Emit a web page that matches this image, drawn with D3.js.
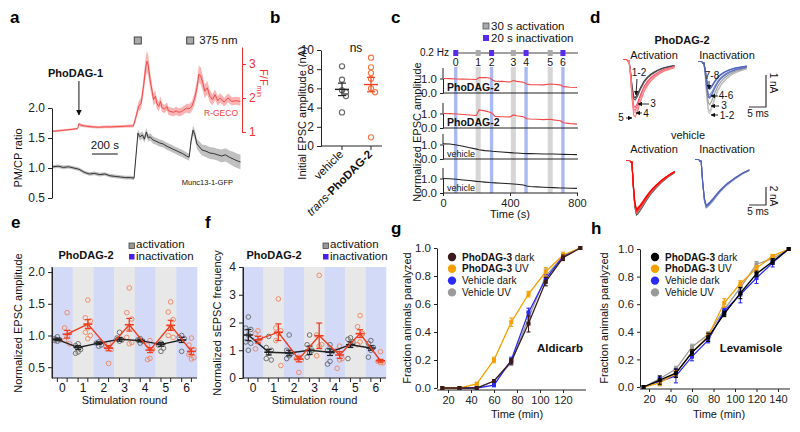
<!DOCTYPE html>
<html><head><meta charset="utf-8">
<script src="https://cdn.jsdelivr.net/npm/d3@7"></script>
<style>body{margin:0;background:#fff}svg{display:block;font-family:"Liberation Sans",Arial,sans-serif}</style>
</head><body><svg id="chart" width="800" height="432"></svg>
<script>
// ================= DATA =================
// Panel a (time in s)
const aRedTime = [0,50,100,150,190,200,215,240,300,350,400,450,500,560,620,640,660,680,700,715,725,735,750,765,775,790,800,815,830,840,860,880,890,910,930,950,970,990,1010,1030,1050,1070,1090,1110,1125,1140,1155,1170,1190,1210,1230,1250,1270,1290,1320,1350,1380,1410,1445];
const aRedVal  = [1.02,1.04,1.06,1.08,1.10,1.24,1.20,1.18,1.15,1.14,1.15,1.15,1.16,1.17,1.18,1.45,1.75,1.85,2.40,2.90,3.08,2.95,2.50,2.20,1.95,2.05,1.85,1.75,1.90,1.72,1.68,1.75,1.62,1.60,1.58,1.62,1.58,1.60,1.65,1.70,1.68,1.75,1.95,2.30,2.70,2.65,2.45,2.20,2.30,2.05,1.95,2.10,1.92,2.00,1.88,2.00,1.90,1.92,1.90];
const aRedErr  = [0.03,0.03,0.03,0.03,0.03,0.05,0.05,0.04,0.04,0.04,0.04,0.04,0.04,0.04,0.05,0.12,0.15,0.18,0.25,0.30,0.32,0.30,0.25,0.20,0.18,0.18,0.15,0.14,0.15,0.13,0.12,0.12,0.12,0.12,0.12,0.12,0.12,0.12,0.12,0.13,0.14,0.15,0.18,0.22,0.25,0.25,0.22,0.20,0.20,0.18,0.16,0.16,0.14,0.14,0.13,0.13,0.12,0.12,0.12];
const aBlkTime = [0,40,80,120,160,200,240,280,320,360,400,440,480,520,560,600,625,640,655,670,690,705,720,735,750,770,790,820,850,880,910,940,970,1000,1030,1050,1065,1080,1095,1110,1130,1150,1180,1210,1240,1270,1300,1330,1360,1390,1420,1446];
const aBlkVal  = [1.02,1.03,1.01,1.02,1.00,0.98,0.93,0.90,0.91,0.89,0.90,0.87,0.86,0.85,0.84,0.84,0.83,1.20,1.58,1.52,1.55,1.48,1.60,1.50,1.52,1.47,1.45,1.42,1.40,1.36,1.33,1.30,1.27,1.24,1.20,1.18,1.45,1.63,1.55,1.40,1.35,1.30,1.28,1.25,1.24,1.22,1.20,1.22,1.18,1.15,1.12,1.10];
const aBlkErr  = [0.03,0.03,0.03,0.03,0.03,0.03,0.03,0.03,0.03,0.03,0.03,0.03,0.03,0.03,0.03,0.03,0.03,0.05,0.06,0.06,0.06,0.06,0.07,0.06,0.06,0.06,0.06,0.06,0.06,0.06,0.06,0.06,0.06,0.06,0.06,0.06,0.07,0.08,0.08,0.08,0.09,0.09,0.10,0.10,0.10,0.10,0.11,0.11,0.11,0.12,0.12,0.12];
const aLeftTicks = [0.5, 1.0, 1.5, 2.0];
const aRightTicks = [1, 2, 3];
const aLightTimes = [654, 1058];

// Panel b (nA)
const bCats = ["vehicle", "trans-PhoDAG-2"];
const bVehicle = [8.3, 6.9, 5.8, 5.6, 5.2, 3.5];
const bPhoDAG  = [9.2, 8.2, 7.6, 7.0, 6.0, 5.6, 0.9];
const bMean = [5.9, 6.4];
const bSem  = [0.65, 0.75];
const bTicks = [0, 2, 4, 6, 8, 10];

// Panel c
const cTime = [0,40,80,120,160,200,215,250,280,295,310,350,400,420,440,480,500,520,560,600,640,660,700,720,760,800];
const cPho1 = [1.0,0.99,0.97,0.96,0.95,0.93,1.06,1.07,1.04,0.90,0.82,0.80,0.76,0.86,0.80,0.74,0.62,0.58,0.57,0.56,0.62,0.60,0.56,0.44,0.40,0.38];
const cPho2 = [1.0,0.99,0.97,0.93,0.90,0.86,1.25,1.18,1.08,1.0,0.80,0.78,0.76,0.90,0.84,0.78,0.64,0.62,0.60,0.58,0.60,0.56,0.50,0.36,0.30,0.27];
const cVeh1 = [1.04,1.03,0.96,0.88,0.78,0.68,0.64,0.58,0.55,0.53,0.52,0.48,0.44,0.42,0.41,0.38,0.37,0.37,0.36,0.35,0.35,0.34,0.33,0.32,0.31,0.30];
const cVeh2 = [1.0,0.98,0.95,0.90,0.86,0.80,0.79,0.75,0.72,0.71,0.70,0.67,0.64,0.62,0.60,0.55,0.48,0.45,0.42,0.40,0.38,0.37,0.35,0.34,0.33,0.32];
const cRoundTimes = [76, 210, 290, 420, 496, 640, 716];
const cRoundType  = ["in","act","in","act","in","act","in"];
const cXTicks = [0, 400, 800];

// Panel d (normalized EPSC shapes, time in ms) and amplitudes (nA)
const dShapeT   = [0,0.6,1.0,1.5,2.0,2.4,3.0,4.0,5.0,6.0,7.0,8.0,9.0,10.0,11.0,12.0,13.0,14.0];
const dShapeTop = [0,0,0.25,0.70,0.97,1.0,0.92,0.72,0.55,0.44,0.36,0.30,0.25,0.21,0.18,0.16,0.14,0.12];
const dShapeBot = [0,0,0.45,0.85,1.0,0.98,0.93,0.84,0.74,0.65,0.57,0.50,0.44,0.38,0.33,0.28,0.24,0.20];
const dActAmp   = [1.15, 1.22, 1.45, 1.55, 1.62, 1.75];
const dActCol   = ["#333","#555","#f46","#f57","#f9a0a0","#f77"];
const dInaAmp   = [1.58, 1.50, 1.30, 1.00, 1.06, 1.10, 0.78, 0.82];
const dInaCol   = ["#c8c8c8","#bbb","#999","#8a9ad8","#7282cc","#6070c0","#4a5ab8","#5566bb"];
const dVehActAmp = [5.9, 5.7, 5.2, 5.35, 5.5, 5.6, 5.3];
const dVehActCol = ["#555","#888","#f33","#f22","#e11","#f44","#f00"];
const dVehInaAmp = [5.0, 5.1, 5.2, 4.9];
const dVehInaCol = ["#6a78c0","#5a68b8","#7a88c8","#4f5fb0"];

// Panel e
const rounds = [0,1,2,3,4,5,6];
const eBlackMean = [0.94,0.81,0.88,0.94,0.92,0.86,0.93];
const eBlackSem  = [0.02,0.03,0.02,0.03,0.02,0.03,0.04];
const eRedMean   = [1.02,1.18,0.80,1.17,0.77,1.16,0.75];
const eRedSem    = [0.06,0.07,0.04,0.10,0.04,0.08,0.05];
const eBlackPts = [[0.98,0.95,0.93,0.91,0.92],[0.87,0.84,0.78,0.74,0.72],[0.90,0.88,0.85,0.83],[1.05,0.96,0.93,0.91],[0.95,0.93,0.91,0.88],[0.88,0.85,0.80,0.75],[1.0,0.97,0.95,0.75]];
const eRedPts = [[1.36,1.12,1.05,0.98,0.92,0.87],[1.56,1.28,1.23,1.12,1.05,1.0,0.95],[0.87,0.82,0.78,0.56],[1.75,1.36,1.26,1.12,0.97,0.89,0.87],[0.92,0.85,0.78,0.64,0.62],[1.53,1.37,1.25,1.12,1.0,0.97],[0.96,0.85,0.78,0.72,0.70,0.65,0.63]];
const eTicks = [0.5,1.0,1.5,2.0];

// Panel f
const fBlackMean = [1.55,0.93,0.90,1.00,0.93,1.20,1.08];
const fBlackSem  = [0.20,0.10,0.10,0.15,0.12,0.10,0.08];
const fRedMean   = [1.38,1.65,0.68,1.52,0.83,1.60,0.62];
const fRedSem    = [0.12,0.30,0.10,0.46,0.12,0.14,0.05];
const fBlackPts = [[2.2,1.8,1.75,1.55,1.3,1.25,1.0],[1.5,1.1,1.0,0.9,0.7,0.65],[1.55,1.0,0.9,0.8,0.7],[1.55,1.2,1.0,0.9,0.75],[1.2,1.0,0.95,0.6,0.5],[1.45,1.4,1.3,1.2,0.7],[1.35,1.25,1.1,1.0,0.75]];
const fRedPts = [[1.7,1.6,1.45,1.3,1.05],[2.85,1.8,1.7,1.6,1.35,0.45],[0.75,0.7,0.65,0.2],[3.7,1.55,1.2,1.15,0.8],[1.15,1.0,0.7,0.65,0.35],[2.25,1.85,1.6,1.3,1.2],[0.95,0.6,0.55,0.55]];
const fTicks = [0,1,2,3,4];

// Panel g (Aldicarb)
const gTimes = [15,30,45,60,75,90,105,120,135];
const gDark    = [0,0,0,0.05,0.19,0.46,0.76,0.93,1.0];
const gDarkErr = [0,0,0,0.01,0.02,0.06,0.03,0.02,0];
const gUV      = [0,0,0.03,0.20,0.47,0.67,0.83,0.95,1.0];
const gUVErr   = [0,0,0.01,0.02,0.03,0.02,0.03,0.02,0];
const gVehDark    = [0,0,0,0.02,0.20,0.54,0.78,0.94,1.0];
const gVehDarkErr = [0,0,0,0.01,0.02,0.03,0.03,0.01,0];
const gVehUV      = [0,0,0,0.05,0.18,0.50,0.80,0.94,1.0];
const gVehUVErr   = [0,0,0,0.01,0.02,0.04,0.05,0.02,0];
const gXTicks = [20,40,60,80,100,120];

// Panel h (Levamisole)
const hTimes = [15,30,45,60,75,90,105,120,135,150];
const hDark    = [0,0.05,0.10,0.25,0.36,0.53,0.68,0.82,0.91,1.0];
const hDarkErr = [0,0.03,0.03,0.02,0.03,0.02,0.04,0.02,0.02,0];
const hUV      = [0,0.03,0.10,0.25,0.37,0.61,0.75,0.86,0.95,1.0];
const hUVErr   = [0,0.02,0.02,0.02,0.02,0.03,0.02,0.02,0.01,0];
const hVehDark    = [0,0.04,0.08,0.22,0.34,0.55,0.67,0.79,0.90,1.0];
const hVehDarkErr = [0,0.03,0.05,0.03,0.02,0.02,0.06,0.04,0.03,0];
const hVehUV      = [0,0.06,0.13,0.29,0.38,0.56,0.72,0.89,0.93,1.0];
const hVehUVErr   = [0,0.02,0.02,0.02,0.02,0.02,0.02,0.02,0.02,0];
const hXTicks = [20,40,60,80,100,120,140];
const fracTicks = [0,0.2,0.4,0.6,0.8,1.0];
const legendNames = [["PhoDAG-3"," dark"],["PhoDAG-3"," UV"],["","Vehicle dark"],["","Vehicle UV"]];

// ================= DRAW =================
const svg = d3.select("#chart");
const FONT = 11.5;
const TITLE = 11;
const AX = "#222";

function styleAxis(g, fs, col) {
  g.select(".domain").attr("stroke", col || AX);
  g.selectAll(".tick line").attr("stroke", col || AX);
  g.selectAll(".tick text").attr("font-size", fs || FONT).attr("fill", col || "#222").attr("font-family", null);
  return g;
}
function txt(x, y, s, o) {
  o = o || {};
  const t = svg.append("text").attr("x", x).attr("y", y).text(s)
    .attr("font-size", o.fs || FONT).attr("fill", o.fill || "#111")
    .attr("text-anchor", o.anchor || "start");
  if (o.bold) t.attr("font-weight", "bold");
  if (o.rot !== undefined) t.attr("transform", `rotate(${o.rot},${x},${y})`);
  return t;
}
function letter(x, y, s) { txt(x, y, s, {fs: 17, bold: true, fill: "#000"}); }

// ---------- Panel a ----------
(function(){
  const x = d3.scaleLinear([0, 1450], [53, 241]);
  const yL = d3.scaleLinear([0.5, 2.0], [198, 108]);
  const yR = d3.scaleLinear([1, 3.5], [132, 47]);
  const red = aRedTime.map((t,i)=>({t, v:aRedVal[i], e:aRedErr[i]}));
  const blk = aBlkTime.map((t,i)=>({t, v:aBlkVal[i], e:aBlkErr[i]}));
  svg.append("path").datum(red).attr("fill","#f7a3a3").attr("opacity",0.8)
    .attr("d", d3.area().x(d=>x(d.t)).y0(d=>yR(d.v-d.e)).y1(d=>yR(d.v+d.e)));
  svg.append("path").datum(red).attr("fill","none").attr("stroke","#f24a4a").attr("stroke-width",1)
    .attr("d", d3.line().x(d=>x(d.t)).y(d=>yR(d.v)));
  svg.append("path").datum(blk).attr("fill","#b5b5b5").attr("opacity",0.85)
    .attr("d", d3.area().x(d=>x(d.t)).y0(d=>yL(d.v-d.e)).y1(d=>yL(d.v+d.e)));
  svg.append("path").datum(blk).attr("fill","none").attr("stroke","#333").attr("stroke-width",1)
    .attr("d", d3.line().x(d=>x(d.t)).y(d=>yL(d.v)));
  styleAxis(svg.append("g").attr("transform","translate(52,0)")
    .call(d3.axisLeft(yL).tickValues(aLeftTicks).tickFormat(d3.format(".1f")).tickSize(4).tickSizeOuter(0)), 12);
  styleAxis(svg.append("g").attr("transform","translate(242,0)")
    .call(d3.axisRight(yR).tickValues(aRightTicks).tickFormat(d3.format("d")).tickSize(4).tickSizeOuter(0)), 12, "#f03030");
  letter(10, 23, "a");
  txt(22, 158, "PM/CP ratio", {rot:-90, anchor:"middle", fs:TITLE});
  const ff = svg.append("text").attr("transform","translate(260,83) rotate(90)").attr("text-anchor","middle")
    .attr("font-size",11).attr("fill","#f03030");
  ff.append("tspan").text("F/F");
  ff.append("tspan").attr("font-size",7).attr("dy",3).text("min");
  txt(48, 77, "PhoDAG-1", {bold:true, fs:11});
  svg.append("defs").append("marker").attr("id","arr").attr("viewBox","0 0 10 10").attr("refX",9).attr("refY",5)
    .attr("markerWidth",6).attr("markerHeight",6).attr("orient","auto")
    .append("path").attr("d","M0,0L10,5L0,10z").attr("fill","#111");
  svg.append("line").attr("x1",x(200)).attr("x2",x(200)).attr("y1",81).attr("y2",115)
    .attr("stroke","#111").attr("marker-end","url(#arr)");
  aLightTimes.forEach(t=>{
    svg.append("rect").attr("x",x(t)-3.5).attr("y",37).attr("width",7).attr("height",7)
      .attr("fill","#aaa").attr("stroke","#444").attr("stroke-width",1);
  });
  txt(x(aLightTimes[1])+9, 44, "375 nm", {fs:11.5});
  svg.append("line").attr("x1",x(300)).attr("x2",x(500)).attr("y1",154).attr("y2",154).attr("stroke","#111");
  txt(x(400), 149, "200 s", {anchor:"middle", fs:11.5});
  txt(238, 116, "R-GECO", {anchor:"end", fs:8.5, fill:"#f04040"});
  txt(233, 185, "Munc13-1-GFP", {anchor:"end", fs:7.5, fill:"#111"});
})();

// ---------- Panel b ----------
(function(){
  const y = d3.scaleLinear([0,10],[146,50]);
  const xc = d3.scalePoint(bCats, [342, 371]);
  styleAxis(svg.append("g").attr("transform","translate(321,0)")
    .call(d3.axisLeft(y).tickValues(bTicks).tickSize(4).tickSizeOuter(0)), 12);
  svg.append("line").attr("x1",321).attr("x2",382).attr("y1",146).attr("y2",146).attr("stroke",AX);
  bCats.forEach(c=>svg.append("line").attr("x1",xc(c)).attr("x2",xc(c)).attr("y1",146).attr("y2",150).attr("stroke",AX));
  function dodge(vals){ // spread overlapping points sideways
    return vals.map((v,i)=>{ let k=0; for(let j=0;j<i;j++) if(Math.abs(vals[j]-v)<0.45) k++; return k===0?0:(k%2?4:-4); });
  }
  const groups = [[bVehicle,"#666"],[bPhoDAG,"#f07840"]];
  groups.forEach(([vals,col],gi)=>{
    const dx = dodge(vals);
    vals.forEach((v,i)=>svg.append("circle").attr("cx",xc(bCats[gi])+dx[i]).attr("cy",y(v)).attr("r",2.6)
      .attr("fill","none").attr("stroke",col).attr("stroke-width",1.1));
    const mc = gi===0?"#222":"#f04020";
    const cx = xc(bCats[gi]);
    svg.append("line").attr("x1",cx-7).attr("x2",cx+7).attr("y1",y(bMean[gi])).attr("y2",y(bMean[gi])).attr("stroke",mc).attr("stroke-width",1.4);
    svg.append("line").attr("x1",cx).attr("x2",cx).attr("y1",y(bMean[gi]-bSem[gi])).attr("y2",y(bMean[gi]+bSem[gi])).attr("stroke",mc).attr("stroke-width",1.2);
    [bMean[gi]-bSem[gi], bMean[gi]+bSem[gi]].forEach(v=>svg.append("line").attr("x1",cx-4).attr("x2",cx+4).attr("y1",y(v)).attr("y2",y(v)).attr("stroke",mc).attr("stroke-width",1.2));
  });
  letter(270, 23, "b");
  txt(356, 52, "ns", {anchor:"middle", fs:12});
  txt(306, 113, "Initial EPSC amplitude (nA)", {rot:-90, anchor:"middle", fs:TITLE});
  txt(xc(bCats[0])+2, 155, "vehicle", {rot:-45, anchor:"end", fs:11.5});
  const tl = svg.append("text").attr("transform",`translate(${xc(bCats[1])+2},155) rotate(-45)`).attr("text-anchor","end").attr("font-size",11.5).attr("fill","#111");
  tl.append("tspan").attr("font-style","italic").text("trans");
  tl.append("tspan").text("-");
  tl.append("tspan").attr("font-weight","bold").text("PhoDAG-2");
})();

// ---------- Panel c ----------
(function(){
  const x = d3.scaleLinear([0,800],[443,577]);
  const bases = [93,128,159,193];
  const unit = 14.5;
  const traces = [[cPho1,"#f04848","PhoDAG-2",true],[cPho2,"#f04848","PhoDAG-2",true],[cVeh1,"#222","vehicle",false],[cVeh2,"#222","vehicle",false]];
  cRoundTimes.forEach((t,i)=>{
    const w = cRoundType[i]==="act"?30:20;
    svg.append("rect").attr("x",x(t-w/2)).attr("width",x(t+w/2)-x(t-w/2)).attr("y",67).attr("height",126)
      .attr("fill", cRoundType[i]==="act"?"#d6d6d6":"#aab9f2");
  });
  traces.forEach(([vals,col,lab,bold],k)=>{
    const b = bases[k];
    const y = d3.scaleLinear([0,1],[b,b-unit]);
    svg.append("line").attr("x1",443).attr("x2",578).attr("y1",b).attr("y2",b).attr("stroke",AX);
    styleAxis(svg.append("g").attr("transform","translate(443,0)")
      .call(d3.axisLeft(y).tickValues([0,1]).tickSize(3).tickSizeOuter(0)), 11.5);
    svg.append("line").attr("x1",443).attr("x2",443).attr("y1",y(1)).attr("y2",b-25).attr("stroke",AX);
    svg.append("path").datum(cTime.map((t,i)=>[t,vals[i]])).attr("fill","none").attr("stroke",col).attr("stroke-width",1.1)
      .attr("d", d3.line().x(d=>x(d[0])).y(d=>y(d[1])));
    txt(447, b-2, lab, {bold:bold, fs: bold?10.5:9});
  });
  const xa = svg.append("g").attr("transform","translate(0,193)").call(d3.axisBottom(x).tickValues(cXTicks).tickSize(3).tickSizeOuter(0));
  styleAxis(xa, 11); xa.select(".domain").remove();
  txt(510, 217.5, "Time (s)", {anchor:"middle", fs:TITLE});
  txt(421, 132, "Normalized EPSC  amplitude", {rot:-90, anchor:"middle", fs:TITLE});
  txt(420, 56, "0.2 Hz", {fs:10});
  svg.append("line").attr("x1",456).attr("x2",578).attr("y1",53).attr("y2",53).attr("stroke","#444").attr("stroke-width",1.2);
  cRoundTimes.forEach((t,i)=>{
    svg.append("rect").attr("x",x(t)-2.5).attr("y",50).attr("width",5).attr("height",6)
      .attr("fill", cRoundType[i]==="act"?"#aaa":"#5a2af0");
    txt(x(t), 66, String(i), {anchor:"middle", fs:10.5});
  });
  letter(391, 23, "c");
  svg.append("rect").attr("x",483).attr("y",23).attr("width",6).attr("height",6).attr("fill","#aaa").attr("stroke","#555").attr("stroke-width",0.8);
  txt(491, 29.5, "30 s activation", {fs:11.5});
  svg.append("rect").attr("x",483).attr("y",35).attr("width",6).attr("height",6).attr("fill","#5a2af0");
  txt(491, 41.5, "20 s inactivation", {fs:11.5});
})();

// ---------- Panel d ----------
(function(){
  letter(590, 23, "d");
  txt(682, 44, "PhoDAG-2", {anchor:"middle", bold:true, fs:11});
  txt(654, 59, "Activation", {anchor:"middle", fs:11});
  txt(727, 59, "Inactivation", {anchor:"middle", fs:11});
  txt(688, 139, "vehicle", {anchor:"middle", fs:11});
  txt(654, 153, "Activation", {anchor:"middle", fs:11});
  txt(727, 153, "Inactivation", {anchor:"middle", fs:11});
  function traces(x0, y0, msPx, nAPx, shape, amps, cols, artifact){
    const x = d3.scaleLinear([0,14],[x0, x0+14*msPx]);
    amps.forEach((a,i)=>{
      const y = d3.scaleLinear([0,1],[y0, y0+a*nAPx]);
      svg.append("path").datum(dShapeT.map((t,j)=>[t,shape[j]])).attr("fill","none")
        .attr("stroke",cols[i]).attr("stroke-width",1.1).attr("d", d3.line().x(d=>x(d[0])).y(d=>y(d[1])));
    });
    if (artifact) svg.append("path").attr("d",`M${x0-4},${y0-1.5}L${x0},${y0-1.5}L${x0},${y0}`).attr("fill","none").attr("stroke",artifact).attr("stroke-width",1.1);
  }
  traces(627, 61, 3.4, 32, dShapeTop, dActAmp, dActCol, "#f55");
  traces(702, 63, 3.2, 32, dShapeTop, dInaAmp, dInaCol, "#56b");
  traces(630, 162, 3.2, 9, dShapeBot, dVehActAmp, dVehActCol, "#f33");
  traces(699, 161, 3.6, 9, dShapeBot, dVehInaAmp, dVehInaCol, "#56b");
  [[107,32,"1 nA",83,117],[205,18,"2 nA",196,215]].forEach(([yb,h,lab,ly,my])=>{
    svg.append("path").attr("d",`M749,${yb}L766,${yb}L766,${yb-h}`).attr("fill","none").attr("stroke","#333").attr("stroke-width",1.2);
    txt(770, ly, lab, {rot:90, anchor:"middle", fs:10});
    txt(758, my, "5 ms", {anchor:"middle", fs:10});
  });
  const defs = svg.append("defs");
  defs.append("marker").attr("id","arr2").attr("viewBox","0 0 10 10").attr("refX",9).attr("refY",5)
    .attr("markerWidth",5).attr("markerHeight",5).attr("orient","auto")
    .append("path").attr("d","M0,0L10,5L0,10z").attr("fill","#111");
  function ann(tx,ty,s,x1,y1,x2,y2){
    txt(tx,ty,s,{fs:10, anchor:"middle"});
    svg.append("line").attr("x1",x1).attr("y1",y1).attr("x2",x2).attr("y2",y2).attr("stroke","#111").attr("stroke-width",0.9).attr("marker-end","url(#arr2)");
  }
  ann(639,76,"1-2",637,79,636,95);
  ann(653,107,"3",649,104,638,104);
  ann(646,117,"4",642,113,636,113);
  ann(621,121,"5",626,118,632,118);
  ann(712,79,"7-8",709,81,709,89);
  ann(726,99,"4-6",718,96,711,96);
  ann(724,109,"3",719,106,711,106);
  ann(727,119,"1-2",718,115,711,115);
})();

// ---------- Panels e & f ----------
function dotPanel(o){
  const x = d3.scaleBand(rounds, [o.x0, o.x1]);
  const bw = x.bandwidth();
  const y = d3.scaleLinear(o.yDom, [378, 267]);
  rounds.forEach(r=>svg.append("rect").attr("x",x(r)).attr("width",bw+0.3).attr("y",267).attr("height",111)
    .attr("fill", r%2===0?"#d2daf8":"#e8e8e8"));
  const bx = r=>x(r)+bw*0.26, rx = r=>x(r)+bw*0.73;
  function pts(arr, xf, col){
    arr.forEach((vals,r)=>vals.forEach((v,i)=>{
      const dx = (i%3===0?0:(i%3===1?-2.5:2.5));
      svg.append("circle").attr("cx",xf(r)+dx).attr("cy",y(v)).attr("r",2.3).attr("fill","none").attr("stroke",col).attr("stroke-width",0.9);
    }));
  }
  pts(o.bPts, bx, "#666");
  pts(o.rPts, rx, "#f0825a");
  function series(mean, sem, xf, col){
    svg.append("path").datum(rounds).attr("fill","none").attr("stroke",col).attr("stroke-width",1.4)
      .attr("d", d3.line().x(r=>xf(r)).y(r=>y(mean[r])));
    rounds.forEach(r=>{
      const cx = xf(r);
      svg.append("line").attr("x1",cx).attr("x2",cx).attr("y1",y(mean[r]-sem[r])).attr("y2",y(mean[r]+sem[r])).attr("stroke",col).attr("stroke-width",1.3);
      [mean[r]-sem[r], mean[r]+sem[r]].forEach(v=>svg.append("line").attr("x1",cx-3).attr("x2",cx+3).attr("y1",y(v)).attr("y2",y(v)).attr("stroke",col).attr("stroke-width",1.2));
      svg.append("line").attr("x1",cx-4.5).attr("x2",cx+4.5).attr("y1",y(mean[r])).attr("y2",y(mean[r])).attr("stroke",col).attr("stroke-width",1.6);
    });
  }
  series(o.bMean, o.bSem, bx, "#222");
  series(o.rMean, o.rSem, rx, "#f03a1e");
  styleAxis(svg.append("g").attr("transform",`translate(${o.x0},0)`)
    .call(d3.axisLeft(y).tickValues(o.ticks).tickFormat(o.fmt).tickSize(4).tickSizeOuter(0)), 12);
  svg.append("line").attr("x1",o.x0).attr("x2",o.x0).attr("y1",267).attr("y2",378).attr("stroke",AX);
  svg.append("line").attr("x1",o.x0).attr("x2",o.x1).attr("y1",378).attr("y2",378).attr("stroke",AX);
  rounds.forEach(r=>{
    [bx(r), rx(r)].forEach(cx=>svg.append("line").attr("x1",cx).attr("x2",cx).attr("y1",378).attr("y2",382).attr("stroke",AX));
    txt(x(r)+bw/2, 392, String(r), {anchor:"middle", fs:12});
  });
  txt((o.x0+o.x1)/2, 404, "Stimulation round", {anchor:"middle", fs:TITLE});
  txt(o.ylx, 323, o.ylab, {rot:-90, anchor:"middle", fs:TITLE});
  txt(o.tx, 259, "PhoDAG-2", {anchor:"middle", bold:true, fs:11});
  svg.append("rect").attr("x",o.lx).attr("y",243).attr("width",5.5).attr("height",5.5).attr("fill","#999").attr("stroke","#444").attr("stroke-width",0.8);
  txt(o.lx+7, 248, "activation", {fs:11.5});
  svg.append("rect").attr("x",o.lx).attr("y",254).attr("width",5.5).attr("height",5.5).attr("fill","#4a1ee8");
  txt(o.lx+7, 259.5, "inactivation", {fs:11.5});
}
dotPanel({x0:52, x1:197, yDom:[0.33,2.08], ticks:eTicks, fmt:d3.format(".1f"), bPts:eBlackPts, rPts:eRedPts,
  bMean:eBlackMean, bSem:eBlackSem, rMean:eRedMean, rSem:eRedSem, ylx:22, ylab:"Normalized EPSC amplitude", tx:86, lx:129});
dotPanel({x0:243, x1:386, yDom:[0,4], ticks:fTicks, fmt:d3.format("d"), bPts:fBlackPts, rPts:fRedPts,
  bMean:fBlackMean, bSem:fBlackSem, rMean:fRedMean, rSem:fRedSem, ylx:221, ylab:"Normalized sEPSC frequency", tx:274, lx:323});
letter(11, 228, "e");
letter(205, 228, "f");

// ---------- Panels g & h ----------
function curvePanel(o){
  const x = d3.scaleLinear(o.xDom, o.xRange);
  const y = d3.scaleLinear([0,1], [o.yb, o.yt]);
  const series = [
    [o.vehUV, o.vehUVErr, "#9a9a9a"],
    [o.vehDark, o.vehDarkErr, "#2a2af5"],
    [o.uv, o.uvErr, "#f5a000"],
    [o.dark, o.darkErr, o.darkCol]
  ];
  series.forEach(([vals, errs, col])=>{
    svg.append("path").datum(o.times.map((t,i)=>[t,vals[i]])).attr("fill","none").attr("stroke",col).attr("stroke-width",1.3)
      .attr("d", d3.line().x(d=>x(d[0])).y(d=>y(d[1])));
    o.times.forEach((t,i)=>{
      if (errs[i]>0){
        svg.append("line").attr("x1",x(t)).attr("x2",x(t)).attr("y1",y(vals[i]-errs[i])).attr("y2",y(vals[i]+errs[i])).attr("stroke",col).attr("stroke-width",1.1);
        [vals[i]-errs[i], vals[i]+errs[i]].forEach(v=>svg.append("line").attr("x1",x(t)-2).attr("x2",x(t)+2).attr("y1",y(v)).attr("y2",y(v)).attr("stroke",col).attr("stroke-width",1.1));
      }
      svg.append("rect").attr("x",x(t)-2).attr("y",y(vals[i])-2).attr("width",4).attr("height",4).attr("fill",col);
    });
  });
  styleAxis(svg.append("g").attr("transform",`translate(${o.ax},0)`)
    .call(d3.axisLeft(y).tickValues(fracTicks).tickFormat(d3.format(".1f")).tickSize(3).tickSizeOuter(0)), 11.5);
  const xa = svg.append("g").attr("transform",`translate(0,${o.yb+2})`)
    .call(d3.axisBottom(x).tickValues(o.xTicks).tickSize(3).tickSizeOuter(0));
  styleAxis(xa, 11);
  xa.select(".domain").attr("d", `M${o.ax},0H${o.axEnd}`);
  txt(o.tlx, 418, "Time (min)", {anchor:"middle", fs:11});
  txt(o.ylx, 318, "Fraction animals paralyzed", {rot:-90, anchor:"middle", fs:11});
  const lcols = [o.darkCol, "#f5a000", "#2a2af5", "#9a9a9a"];
  legendNames.forEach(([b, r], i)=>{
    const ly = 257 + i*11.8;
    svg.append("circle").attr("cx",o.ax+15).attr("cy",ly).attr("r",4.2).attr("fill",lcols[i]);
    const t = svg.append("text").attr("x",o.ax+25).attr("y",ly+3.5).attr("font-size",10).attr("fill","#111");
    if (b) t.append("tspan").attr("font-weight","bold").text(b);
    t.append("tspan").text(r);
  });
  txt(o.lab[1], 352, o.lab[0], {anchor:"middle", bold:true, fs:11.5});
}
curvePanel({times:gTimes, dark:gDark, darkErr:gDarkErr, uv:gUV, uvErr:gUVErr, vehDark:gVehDark, vehDarkErr:gVehDarkErr,
  vehUV:gVehUV, vehUVErr:gVehUVErr, darkCol:"#3a1a1a", xDom:[20,120], xRange:[448,563], yb:388, yt:248,
  ax:437, axEnd:586, xTicks:gXTicks, ylx:411, tlx:517, lab:["Aldicarb",560]});
curvePanel({times:hTimes, dark:hDark, darkErr:hDarkErr, uv:hUV, uvErr:hUVErr, vehDark:hVehDark, vehDarkErr:hVehDarkErr,
  vehUV:hVehUV, vehUVErr:hVehUVErr, darkCol:"#000", xDom:[20,140], xRange:[649,778], yb:387, yt:249,
  ax:640, axEnd:790, xTicks:hXTicks, ylx:608, tlx:719, lab:["Levamisole",751]});
letter(391, 234, "g");
letter(591, 234, "h");
</script></body></html>
